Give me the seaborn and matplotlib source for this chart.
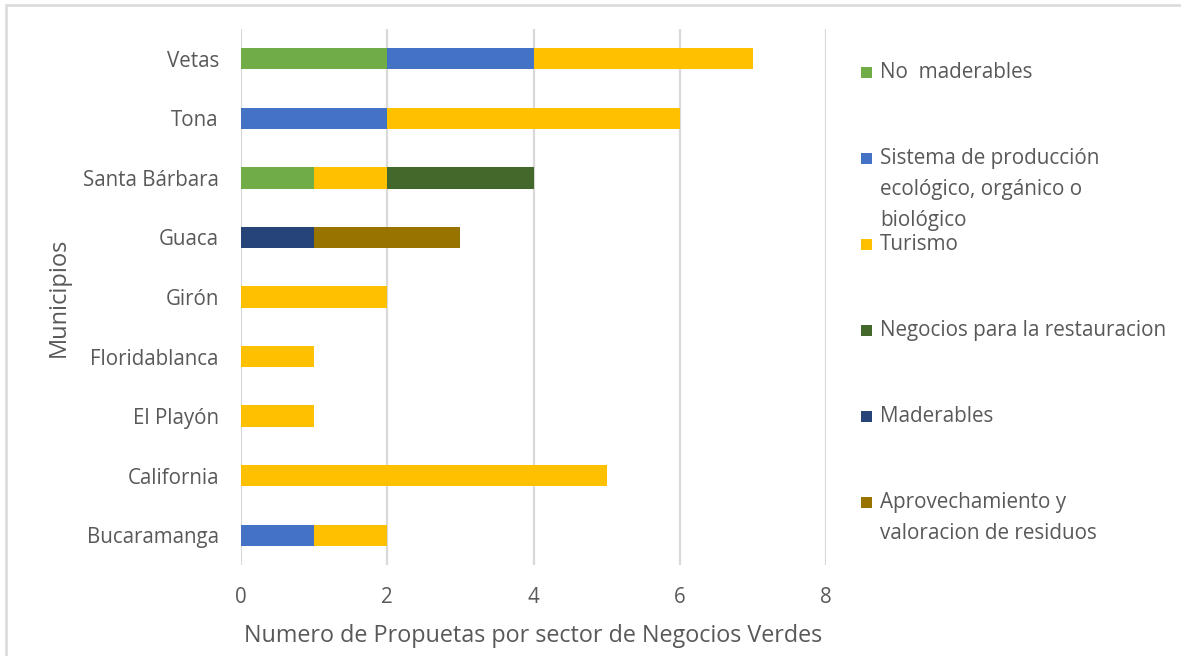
import matplotlib
matplotlib.use("Agg")
import matplotlib.pyplot as plt
from matplotlib.patches import Rectangle
import numpy as np
import pandas as pd
import seaborn as sns

# Municipalities, top to bottom
municipios = ["Vetas", "Tona", "Santa Bárbara", "Guaca", "Girón",
              "Floridablanca", "El Playón", "California", "Bucaramanga"]

# Sectors in stacking order
sectores = [
    "No  maderables",
    "Sistema de producción\necológico, orgánico o\nbiológico",
    "Turismo",
    "Negocios para la restauracion",
    "Maderables",
    "Aprovechamiento y\nvaloracion de residuos",
]

# Number of proposals per sector, one value per municipality (same order)
no_maderables   = [2, 0, 1, 0, 0, 0, 0, 0, 0]
sistema_prod    = [2, 2, 0, 0, 0, 0, 0, 0, 1]
turismo         = [3, 4, 1, 0, 2, 1, 1, 5, 1]
restauracion    = [0, 0, 2, 0, 0, 0, 0, 0, 0]
maderables      = [0, 0, 0, 1, 0, 0, 0, 0, 0]
aprovechamiento = [0, 0, 0, 2, 0, 0, 0, 0, 0]

colores = ["#70AD47", "#4472C4", "#FFC000", "#43682B", "#264478", "#997300"]

series = [no_maderables, sistema_prod, turismo, restauracion, maderables, aprovechamiento]
vals = np.array(series, dtype=float)
cum = np.cumsum(vals, axis=0)

rows = []
for si, sector in enumerate(sectores):
    for mi, m in enumerate(municipios):
        rows.append({"Municipio": m, "Sector": sector, "Valor": vals[si, mi],
                     "Acumulado": cum[si, mi]})
df = pd.DataFrame(rows)

sns.set_theme(style="white")
font = "Open Sans"
plt.rcParams["font.family"] = [font, "DejaVu Sans"]
txt = "#595959"
grid = "#D9D9D9"

W, H = 1181, 656
fig = plt.figure(figsize=(W / 100, H / 100), dpi=100)
ax = fig.add_axes([241 / W, 1 - 565 / H, 585 / W, 536 / H])

# Stacked bars: draw cumulative totals from the outermost layer inwards
for si in reversed(range(len(sectores))):
    sub = df[df["Sector"] == sectores[si]]
    sns.barplot(data=sub, x="Acumulado", y="Municipio", order=municipios,
                color=colores[si], orient="h", width=0.36, errorbar=None,
                saturation=1, linewidth=0, ax=ax)

ax.set_xlim(0, 8)
ax.set_ylim(8.5, -0.5)
ax.set_xticks([0, 2, 4, 6, 8])
ax.xaxis.grid(True, color=grid, linewidth=1.6)
ax.set_axisbelow(True)
for s in ax.spines.values():
    s.set_visible(False)
ax.tick_params(axis="both", length=0, labelsize=14.8, colors=txt)
ax.tick_params(axis="x", pad=16)
ax.tick_params(axis="y", pad=16)
ax.set_xlabel("Numero de Propuetas por sector de Negocios Verdes",
              fontsize=16.8, color=txt, labelpad=11)
ax.set_ylabel("Municipios", fontsize=17, color=txt, labelpad=9)

# Legend entries on the right
for i, (lab, c) in enumerate(zip(sectores, colores)):
    yc = 72 + 86 * i
    fig.add_artist(Rectangle((861 / W, 1 - (yc + 6) / H), 11 / W, 11 / H,
                             transform=fig.transFigure, color=c, lw=0))
    fig.text(880 / W, 1 - (yc - 10) / H, lab, fontsize=14.9, color=txt,
             ha="left", va="top", linespacing=1.62)

# Light chart-area border
fig.add_artist(Rectangle((6 / W, -0.1), 1.2, 1.1 - 5 / H, transform=fig.transFigure,
                         fill=False, edgecolor=grid, lw=1.8))

fig.savefig("out.png", dpi=100, facecolor="white")
